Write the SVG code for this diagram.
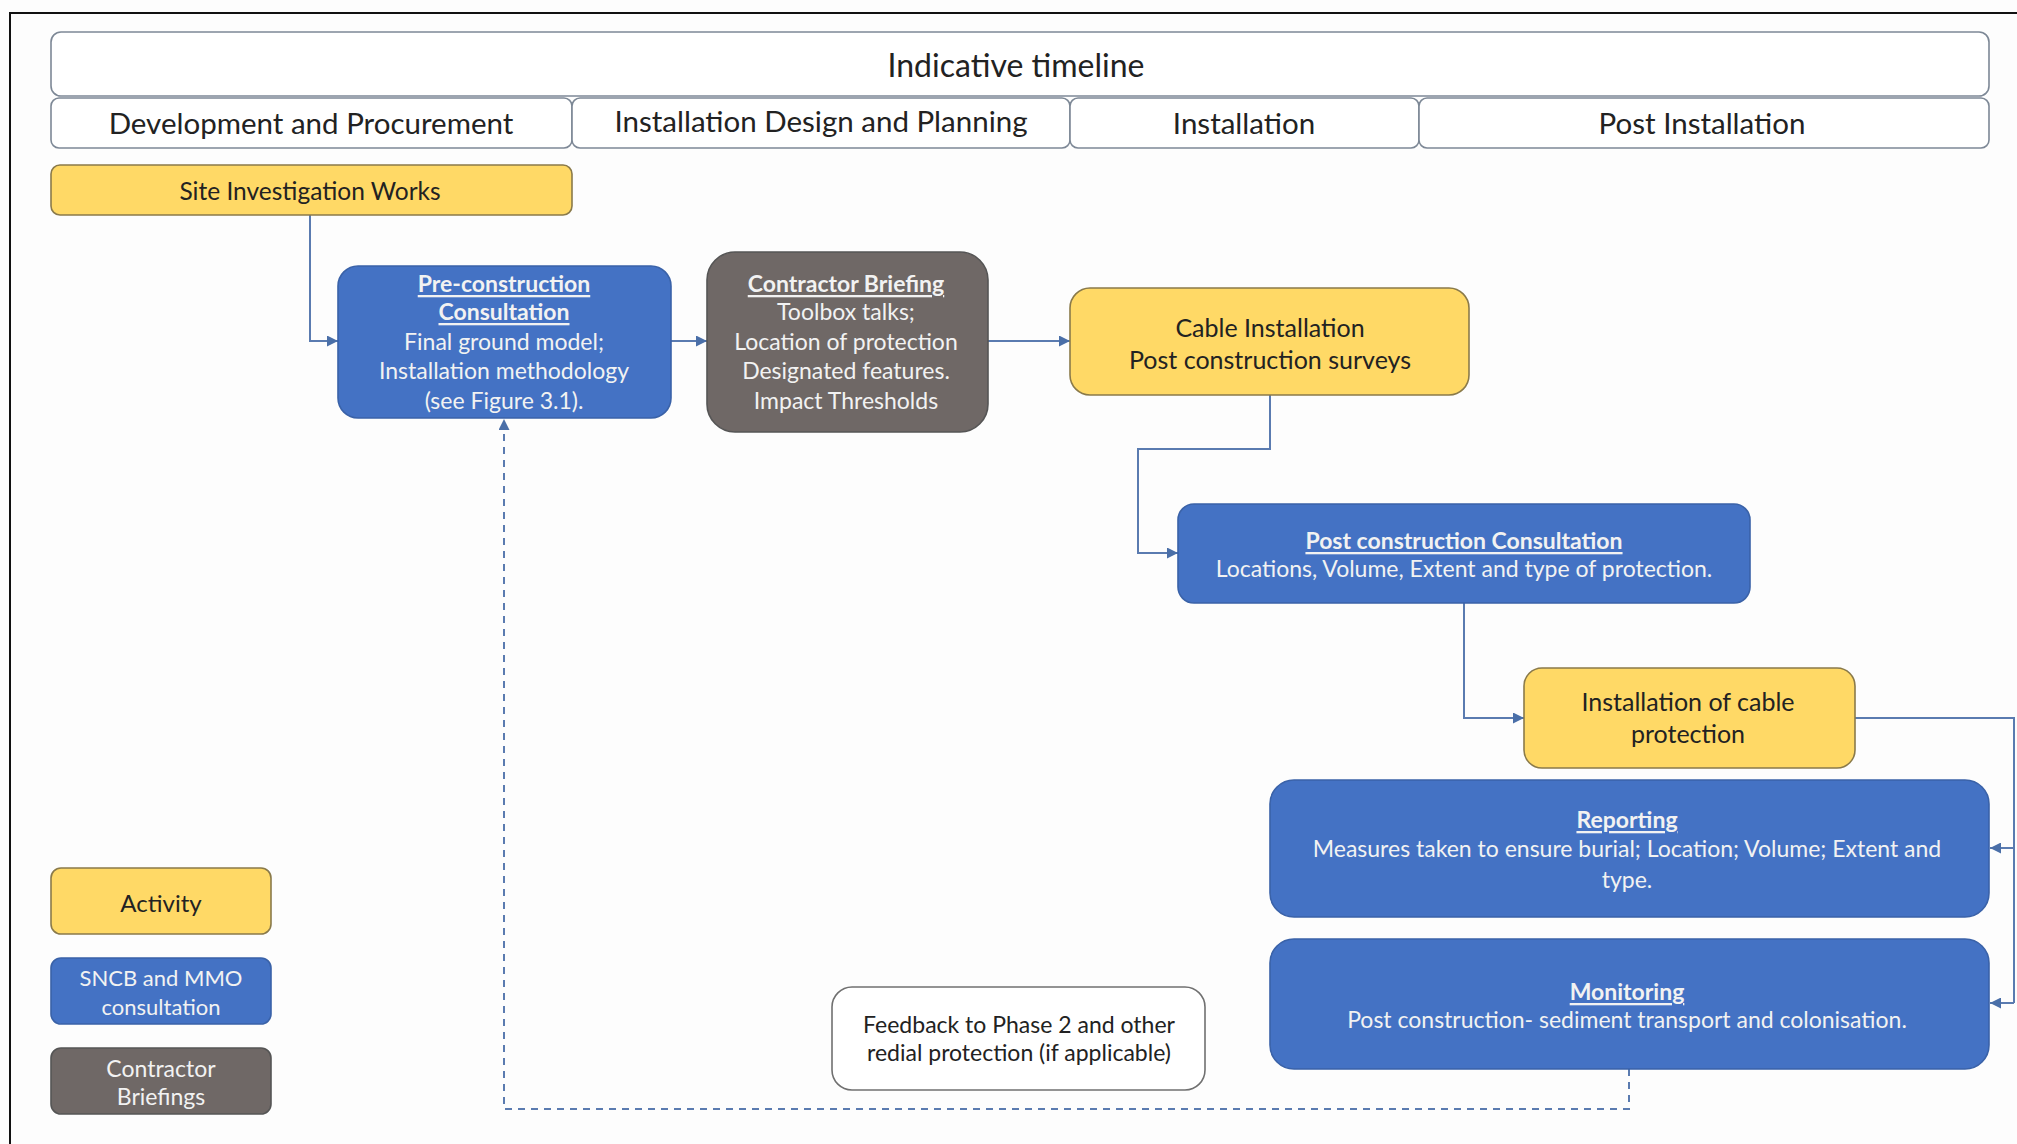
<svg xmlns="http://www.w3.org/2000/svg" width="2017" height="1144" viewBox="0 0 2017 1144">
<style>
text{font-family:Lato,"Open Sans","Liberation Sans",sans-serif;text-anchor:middle;dominant-baseline:central}
.hdr{fill:#fff;stroke:#7d8896;stroke-width:1.6}
.hdrt{font-size:29.5px;fill:#222}
.yel{fill:#FFD966;stroke:#8a7a4a;stroke-width:1.6}
.blu{fill:#4472C4;stroke:#3a62a8;stroke-width:1.6}
.gry{fill:#6f6866;stroke:#555;stroke-width:1.6}
.wht{fill:#fff;stroke:#707070;stroke-width:1.6}
.dt{font-size:25px;fill:#222}
.lt{font-size:23px;fill:#f2f2f2}
.h{font-weight:bold;text-decoration:underline}
.conn{fill:none;stroke:#5a7bb0;stroke-width:2}
.dash{stroke-dasharray:7 6}
</style>
<defs>
<marker id="arr" viewBox="0 0 10 10" refX="10" refY="5" markerUnits="userSpaceOnUse" markerWidth="11" markerHeight="11" orient="auto">
<path d="M0,0 L10,5 L0,10 z" fill="#4a6fa8"/>
</marker>
</defs>
<rect x="0" y="0" width="2017" height="1144" fill="#fdfdfd"/>
<path d="M10,1144 V13 H2017" fill="none" stroke="#111" stroke-width="2"/>

<g id="timeline">
<rect class="hdr" x="51" y="32" width="1938" height="64" rx="10"/>
<text class="hdrt" x="1016" y="64" style="font-size:32px">Indicative timeline</text>
</g>
<g id="phase-dev">
<rect class="hdr" x="51" y="98" width="521" height="50" rx="8"/>
<text class="hdrt" x="311" y="122">Development and Procurement</text>
</g>
<g id="phase-design">
<rect class="hdr" x="572" y="98" width="498" height="50" rx="8"/>
<text class="hdrt" x="821" y="120">Installation Design and Planning</text>
</g>
<g id="phase-install">
<rect class="hdr" x="1070" y="98" width="349" height="50" rx="8"/>
<text class="hdrt" x="1244" y="122">Installation</text>
</g>
<g id="phase-post">
<rect class="hdr" x="1419" y="98" width="570" height="50" rx="8"/>
<text class="hdrt" x="1702" y="122">Post Installation</text>
</g>

<g id="connectors">
<path class="conn" d="M310,215 V341 H338" marker-end="url(#arr)"/>
<path class="conn" d="M671,341 H707" marker-end="url(#arr)"/>
<path class="conn" d="M988,341 H1070" marker-end="url(#arr)"/>
<path class="conn" d="M1270,395 V449 H1138 V553 H1178" marker-end="url(#arr)"/>
<path class="conn" d="M1464,603 V718 H1524" marker-end="url(#arr)"/>
<path class="conn" d="M1855,718 H2014 V1003"/>
<path class="conn" d="M2014,848 H1990" marker-end="url(#arr)"/>
<path class="conn" d="M2014,1003 H1990" marker-end="url(#arr)"/>
<path class="conn dash" d="M1629,1069 V1109 H504 V419" marker-end="url(#arr)"/>
</g>

<g id="site-investigation">
<rect class="yel" x="51" y="165" width="521" height="50" rx="9"/>
<text class="dt" x="310" y="190" style="font-size:24.5px">Site Investigation Works</text>
</g>

<g id="pre-construction">
<rect class="blu" x="338" y="266" width="333" height="152" rx="20"/>
<text class="lt" x="504" y="283"><tspan class="h">Pre-construction</tspan></text>
<text class="lt" x="504" y="311"><tspan class="h">Consultation</tspan></text>
<text class="lt" x="504" y="341">Final ground model;</text>
<text class="lt" x="504" y="370">Installation methodology</text>
<text class="lt" x="504" y="400">(see Figure 3.1).</text>
</g>

<g id="contractor-briefing">
<rect class="gry" x="707" y="252" width="281" height="180" rx="28"/>
<text class="lt" x="846" y="283"><tspan class="h">Contractor Briefing</tspan></text>
<text class="lt" x="846" y="311">Toolbox talks;</text>
<text class="lt" x="846" y="341">Location of protection</text>
<text class="lt" x="846" y="370">Designated features.</text>
<text class="lt" x="846" y="400">Impact Thresholds</text>
</g>

<g id="cable-installation">
<rect class="yel" x="1070" y="288" width="399" height="107" rx="20"/>
<text class="dt" x="1270" y="327">Cable Installation</text>
<text class="dt" x="1270" y="359">Post construction  surveys</text>
</g>

<g id="post-consultation">
<rect class="blu" x="1178" y="504" width="572" height="99" rx="16"/>
<text class="lt" x="1464" y="540"><tspan class="h">Post construction Consultation</tspan></text>
<text class="lt" x="1464" y="568">Locations, Volume, Extent and type of protection.</text>
</g>

<g id="cable-protection">
<rect class="yel" x="1524" y="668" width="331" height="100" rx="18"/>
<text class="dt" x="1688" y="701">Installation of cable</text>
<text class="dt" x="1688" y="733">protection</text>
</g>

<g id="reporting">
<rect class="blu" x="1270" y="780" width="719" height="137" rx="24"/>
<text class="lt" x="1627" y="819"><tspan class="h">Reporting</tspan></text>
<text class="lt" x="1627" y="848">Measures taken to ensure burial; Location; Volume; Extent and</text>
<text class="lt" x="1627" y="879">type.</text>
</g>

<g id="monitoring">
<rect class="blu" x="1270" y="939" width="719" height="130" rx="24"/>
<text class="lt" x="1627" y="991"><tspan class="h">Monitoring</tspan></text>
<text class="lt" x="1627" y="1019">Post construction- sediment transport and colonisation.</text>
</g>

<g id="feedback">
<rect class="wht" x="832" y="987" width="373" height="103" rx="20"/>
<text class="dt" x="1019" y="1024" style="font-size:23px">Feedback to Phase 2 and other</text>
<text class="dt" x="1019" y="1052" style="font-size:23px">redial protection (if applicable)</text>
</g>

<g id="legend-activity">
<rect class="yel" x="51" y="868" width="220" height="66" rx="10"/>
<text class="dt" x="161" y="902" style="font-size:24px">Activity</text>
</g>
<g id="legend-sncb">
<rect class="blu" x="51" y="958" width="220" height="66" rx="10"/>
<text class="lt" x="161" y="977" style="font-size:22px">SNCB and MMO</text>
<text class="lt" x="161" y="1006" style="font-size:22px">consultation</text>
</g>
<g id="legend-contractor">
<rect class="gry" x="51" y="1048" width="220" height="66" rx="10"/>
<text class="lt" x="161" y="1068">Contractor</text>
<text class="lt" x="161" y="1096">Briefings</text>
</g>
</svg>
